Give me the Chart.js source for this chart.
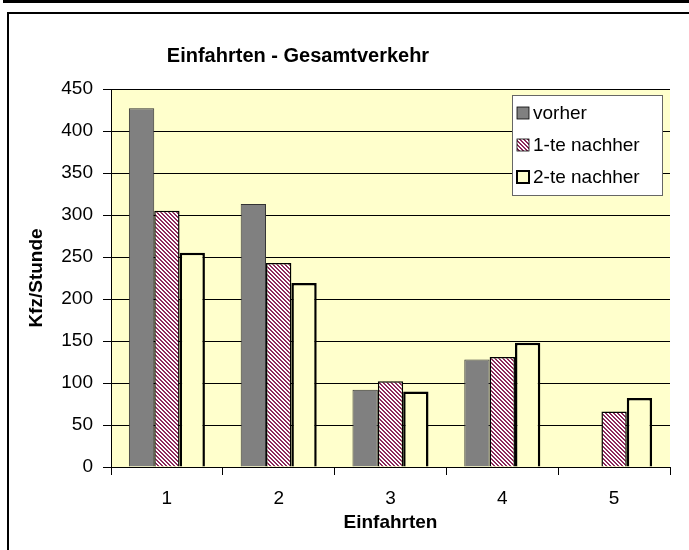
<!DOCTYPE html>
<html>
<head>
<meta charset="utf-8">
<script src="https://cdn.jsdelivr.net/npm/chart.js@4/dist/chart.umd.min.js"></script>
<style>
  html, body { margin: 0; padding: 0; background: #fff; }
  #wrap { width: 689px; height: 550px; position: relative; }
</style>
</head>
<body>
<div id="wrap"><canvas id="chart" width="689" height="550"></canvas></div>
<script>
// data
const categories = ['1', '2', '3', '4', '5'];
const vorher = [427, 313, 92, 128, null];
const nachher1 = [305, 243, 102, 131, 66];
const nachher2 = [255, 219, 90, 148, 82];
const yTicks = [0, 50, 100, 150, 200, 250, 300, 350, 400, 450];

const FONT = 'Arial, "Liberation Sans", sans-serif';
const plotBg = '#FFFFCC';

// diagonal maroon/white hatch like the excel pattern
function makeHatch() {
    const c = document.createElement('canvas');
    c.width = 4; c.height = 4;
    const g = c.getContext('2d');
    g.fillStyle = '#ffffff';
    g.fillRect(0, 0, 4, 4);
    g.fillStyle = '#8e2a5c';
    for (let y = 0; y < 4; y++) {
        for (let x = 0; x < 4; x++) {
            if (((x - y) % 4 + 4) % 4 < 2) g.fillRect(x, y, 1, 1);
        }
    }
    return document.getElementById('chart').getContext('2d').createPattern(c, 'repeat');
}
const hatch = makeHatch();

const frame = {
    id: 'frame',
    beforeDraw(chart) {
        const { ctx, chartArea: a } = chart;
        ctx.save();
        ctx.fillStyle = '#000';
        ctx.fillRect(3, 0, 689, 3);
        ctx.strokeStyle = '#000';
        ctx.lineWidth = 2;
        ctx.beginPath();
        ctx.moveTo(8, 560);
        ctx.lineTo(8, 13);
        ctx.lineTo(700, 13);
        ctx.stroke();
        ctx.fillStyle = plotBg;
        ctx.fillRect(a.left, a.top, a.right - a.left, a.bottom - a.top);
        ctx.restore();
    },
    afterDraw(chart) {
        const { ctx } = chart;
        ctx.save();
        // title
        ctx.fillStyle = '#000';
        ctx.font = 'bold 20px ' + FONT;
        ctx.textAlign = 'center';
        ctx.textBaseline = 'alphabetic';
        ctx.fillText('Einfahrten - Gesamtverkehr', 298, 62);

        // legend box inside the plot
        const bx = 512, by = 95, bw = 150, bh = 100;
        ctx.fillStyle = '#fff';
        ctx.fillRect(bx, by, bw, bh);
        ctx.strokeStyle = '#666';
        ctx.lineWidth = 1;
        ctx.strokeRect(bx + 0.5, by + 0.5, bw, bh);
        ctx.font = '19px ' + FONT;
        ctx.textAlign = 'left';
        ctx.textBaseline = 'middle';
        chart.data.datasets.forEach((ds, i) => {
            const cy = by + 18 + i * 32;
            ctx.fillStyle = ds.backgroundColor;
            ctx.fillRect(bx + 5, cy - 6, 12, 12);
            ctx.strokeStyle = '#000';
            ctx.lineWidth = ds.legendBorder;
            ctx.strokeRect(bx + 5, cy - 6, 12, 12);
            ctx.fillStyle = '#000';
            ctx.fillText(ds.label, bx + 21, cy + 1);
        });
        ctx.restore();
    }
};

new Chart(document.getElementById('chart'), {
    type: 'bar',
    data: {
        labels: categories,
        datasets: [
            { label: 'vorher', data: vorher, backgroundColor: '#808080', borderColor: '#333', borderWidth: 1, legendBorder: 0.8 },
            { label: '1-te nachher', data: nachher1, backgroundColor: hatch, borderColor: '#000', borderWidth: 1.5, legendBorder: 0.8 },
            { label: '2-te nachher', data: nachher2, backgroundColor: plotBg, borderColor: '#000', borderWidth: 2.5, legendBorder: 2 }
        ]
    },
    options: {
        responsive: false,
        animation: false,
        layout: { padding: { top: 89, right: 19, left: 0, bottom: 0 } },
        datasets: { bar: { categoryPercentage: 0.68, barPercentage: 1.0 } },
        plugins: { legend: { display: false }, title: { display: false }, tooltip: { enabled: false } },
        scales: {
            x: {
                afterFit(s) { s.height = 83; },
                grid: { offset: true, drawOnChartArea: false, color: '#000', tickLength: 8, tickWidth: 1 },
                border: { color: '#000', width: 1 },
                ticks: { color: '#000', font: { family: FONT, size: 19 }, padding: 12 },
                title: { display: true, text: 'Einfahrten', color: '#000', font: { family: FONT, size: 19, weight: 'bold' }, padding: { top: 0, bottom: 16 } }
            },
            y: {
                min: 0, max: 450,
                afterFit(s) { s.width = 111; },
                afterBuildTicks(s) { s.ticks = yTicks.map(v => ({ value: v })); },
                grid: { color: '#000', lineWidth: 1, tickLength: 8 },
                border: { color: '#000', width: 1 },
                ticks: { color: '#000', font: { family: FONT, size: 19 }, padding: 10 },
                title: { display: true, text: 'Kfz/Stunde', color: '#000', font: { family: FONT, size: 19, weight: 'bold' }, padding: { top: 25, bottom: 0 } }
            }
        }
    },
    plugins: [frame]
});
</script>
</body>
</html>
